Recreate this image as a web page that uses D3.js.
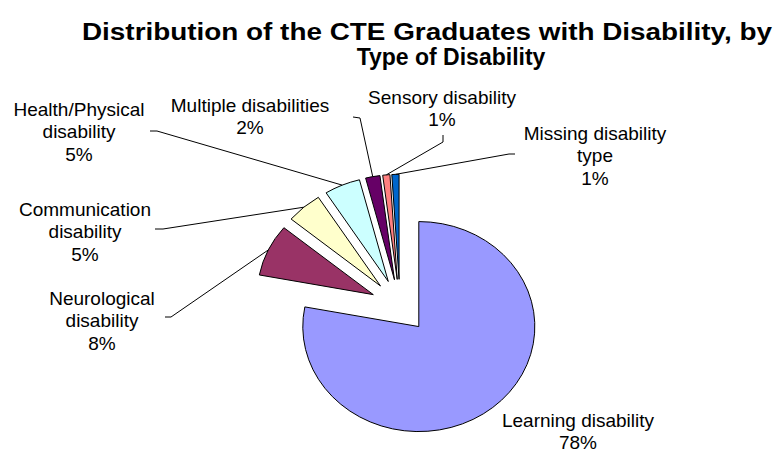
<!DOCTYPE html>
<html>
<head>
<meta charset="utf-8">
<script src="https://cdn.jsdelivr.net/npm/d3@7/dist/d3.min.js"></script>
<style>
  body { margin: 0; background: #fff; }
  text { font-family: "Liberation Sans", Arial, sans-serif; fill: #000; }
</style>
</head>
<body>
<svg id="chart" width="780" height="454"></svg>
<script>
// data
var categories = ["Learning disability", "Neurological disability", "Communication disability",
    "Health/Physical disability", "Multiple disabilities", "Sensory disability", "Missing disability type"];
var percents = [78, 8, 5, 5, 2, 1, 1];
var labelLines = [["Learning disability"], ["Neurological", "disability"], ["Communication", "disability"],
    ["Health/Physical", "disability"], ["Multiple disabilities"], ["Sensory disability"], ["Missing disability", "type"]];
var sliceColors = ["#9999FF", "#993366", "#FFFFCC", "#CCFFFF", "#660066", "#FF8080", "#0066CC"];
var titleLines = ["Distribution of the CTE Graduates with Disability, by", "Type of Disability"];

// layout
var cx = 400, cy = 306, radius = 105, stretch = 1.105, explode = 26.7;
var fontSize = 19, lineGap = 22.5;
var titleLayout = [{x: 427, y: 40, width: 690}, {x: 451, y: 65, width: null}];
// label centre x, centre y of first line, leader start (tail) points
var labelLayout = [
    {x: 578, y: 420, leader: null},
    {x: 102, y: 298, leader: [[165, 317], [171, 317]]},
    {x: 85, y: 209, leader: [[155, 229], [163, 229]]},
    {x: 79, y: 109, leader: [[150, 131], [157, 131]]},
    {x: 250, y: 105, leader: [[353, 117], [360, 118]]},
    {x: 442, y: 97, leader: [[443, 135], [443, 142]]},
    {x: 595, y: 133, leader: [[515, 154], [509, 154]]}
];

var svg = d3.select("#chart");

svg.selectAll("text.title").data(titleLines).enter().append("text")
    .attr("class", "title")
    .attr("x", function (d, i) { return titleLayout[i].x; })
    .attr("y", function (d, i) { return titleLayout[i].y; })
    .attr("text-anchor", "middle")
    .each(function (d, i) {
        if (titleLayout[i].width) {
            d3.select(this).attr("textLength", titleLayout[i].width).attr("lengthAdjust", "spacingAndGlyphs");
        }
    })
    .style("font-weight", "bold")
    .style("font-size", "23px")
    .text(function (d) { return d; });

var pie = d3.pie().sort(null).value(function (d) { return d; });
var arcs = pie(percents);
var arc = d3.arc().innerRadius(0).outerRadius(radius);

function offset(d, dist) {
    var mid = (d.startAngle + d.endAngle) / 2;
    return [Math.sin(mid) * dist, -Math.cos(mid) * dist];
}

var pieG = svg.append("g")
    .attr("transform", "translate(" + cx + "," + cy + ") scale(" + stretch + ",1)");

pieG.selectAll("path").data(arcs).enter().append("path")
    .attr("transform", function (d) { var o = offset(d, explode); return "translate(" + o[0] + "," + o[1] + ")"; })
    .attr("d", arc)
    .attr("fill", function (d, i) { return sliceColors[i]; })
    .attr("stroke", "#000")
    .attr("stroke-width", 1)
    .attr("vector-effect", "non-scaling-stroke");

// leader lines: tail points then the middle of the slice's outer edge
arcs.forEach(function (d, i) {
    var lay = labelLayout[i];
    if (!lay.leader) return;
    var o = offset(d, explode + radius);
    var end = [cx + o[0] * stretch, cy + o[1]];
    var pts = lay.leader.concat([end]);
    svg.append("path")
        .attr("d", d3.line()(pts))
        .attr("fill", "none")
        .attr("stroke", "#000")
        .attr("stroke-width", 1);
});

arcs.forEach(function (d, i) {
    var lay = labelLayout[i];
    var lines = labelLines[i].concat([percents[i] + "%"]);
    var t = svg.append("text")
        .attr("text-anchor", "middle")
        .style("font-size", fontSize + "px");
    lines.forEach(function (s, k) {
        t.append("tspan")
            .attr("x", lay.x)
            .attr("y", lay.y + k * lineGap + fontSize * 0.35)
            .text(s);
    });
});
</script>
</body>
</html>
